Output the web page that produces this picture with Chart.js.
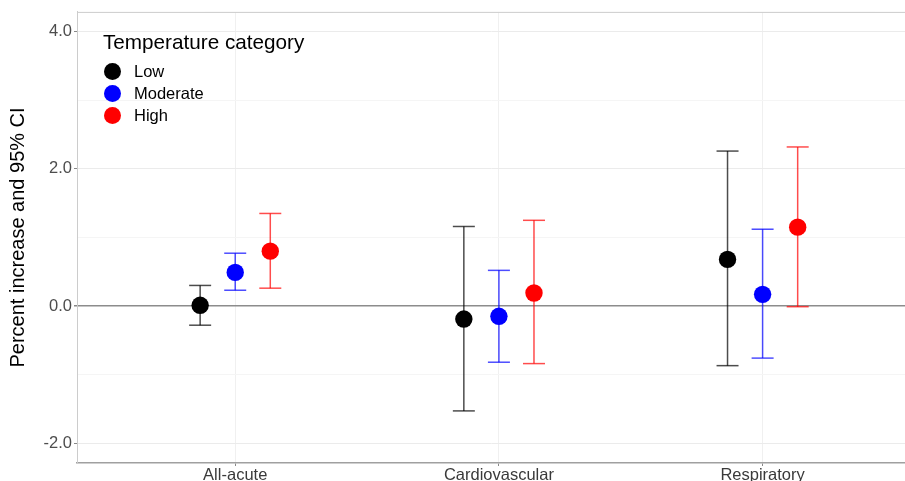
<!DOCTYPE html>
<html>
<head>
<meta charset="utf-8">
<script src="https://cdn.jsdelivr.net/npm/chart.js@4.4.1/dist/chart.umd.min.js"></script>
<style>
  body { margin: 0; background: #fff; font-family: "Liberation Sans", Arial, sans-serif; }
  #wrap { position: relative; width: 905px; height: 481px; }
  #legend { position: absolute; left: 103px; top: 29px; color: #000; }
  #legend .title { font-size: 20.7px; line-height: 26px; margin-bottom: 5px; }
  #legend .item { display: flex; align-items: center; height: 22px; font-size: 16.5px; }
  #legend .dot { width: 17px; height: 17px; border-radius: 50%; margin: 0 13px 0 1px; }
</style>
</head>
<body>
<div id="wrap">
  <canvas id="chartCI" width="905" height="481"></canvas>
  <div id="legend"></div>
</div>
<script>
// Datos
const categories = ['All-acute', 'Cardiovascular', 'Respiratory'];
const groups = ['Low', 'Moderate', 'High'];
const lowEst = [0.01, -0.19, 0.68];
const lowLo = [-0.28, -1.53, -0.87];
const lowHi = [0.30, 1.16, 2.26];
const modEst = [0.49, -0.15, 0.17];
const modLo = [0.23, -0.82, -0.76];
const modHi = [0.77, 0.52, 1.12];
const highEst = [0.80, 0.19, 1.15];
const highLo = [0.26, -0.84, -0.01];
const highHi = [1.35, 1.25, 2.32];
const yTickValues = [-2, -1, 0, 1, 2, 3, 4];

const groupColors = ['#000000', '#0000ff', '#ff0000'];
const barColors = ['rgba(0,0,0,0.7)', 'rgba(0,0,255,0.7)', 'rgba(255,0,0,0.7)'];
const dodge = [-0.133, 0, 0.133];
const series = [
  { est: lowEst, lo: lowLo, hi: lowHi },
  { est: modEst, lo: modLo, hi: modHi },
  { est: highEst, lo: highLo, hi: highHi }
];

// Construir datasets
const datasets = [];
series.forEach((s, g) => {
  const pts = s.est.map((v, i) => ({ x: i + 1 + dodge[g], y: v }));
  datasets.push({
    label: groups[g],
    data: pts,
    showLine: false,
    pointRadius: 8.7,
    pointBorderWidth: 0,
    backgroundColor: groupColors[g],
    borderColor: groupColors[g],
    order: 1
  });
  const bars = [];
  s.est.forEach((v, i) => {
    const x = i + 1 + dodge[g];
    bars.push({ x: x, y: s.lo[i] }, { x: x, y: s.hi[i] }, { x: x, y: null });
  });
  datasets.push({
    label: groups[g] + ' CI',
    data: bars,
    showLine: true,
    spanGaps: false,
    borderColor: barColors[g],
    borderWidth: 1.5,
    pointStyle: 'line',
    pointRadius: 11,
    pointBorderWidth: 1.5,
    pointBorderColor: barColors[g],
    order: 2
  });
});

// Borde superior del panel
const panelBorder = {
  id: 'panelBorder',
  afterDraw(chart) {
    const { ctx, chartArea } = chart;
    ctx.save();
    ctx.strokeStyle = '#cccccc';
    ctx.lineWidth = 1;
    ctx.beginPath();
    ctx.moveTo(chartArea.left, chartArea.top + 0.5);
    ctx.lineTo(chartArea.right, chartArea.top + 0.5);
    ctx.stroke();
    ctx.restore();
  }
};

const chart = new Chart(document.getElementById('chartCI').getContext('2d'), {
  type: 'scatter',
  data: { datasets: datasets },
  plugins: [panelBorder],
  options: {
    responsive: false,
    animation: false,
    events: [],
    layout: { autoPadding: false, padding: { top: 11, right: 0, left: 0, bottom: 0 } },
    plugins: { legend: { display: false }, tooltip: { enabled: false } },
    scales: {
      x: {
        type: 'linear',
        min: 0.4,
        max: 3.54,
        afterBuildTicks: (scale) => { scale.ticks = categories.map((c, i) => ({ value: i + 1 })); },
        afterFit: (scale) => { scale.height = 18; scale.paddingRight = 0; scale.paddingLeft = 0; },
        ticks: {
          callback: (v) => categories[Math.round(v) - 1] || '',
          font: { family: 'Liberation Sans', size: 16.5 },
          color: '#3a3a3a',
          padding: 0,
          maxRotation: 0
        },
        grid: { color: '#f0f0f0', lineWidth: 1, tickLength: 3, tickColor: '#888888' },
        border: { color: '#a0a0a0', width: 1.5 }
      },
      y: {
        type: 'linear',
        min: -2.29,
        max: 4.29,
        afterBuildTicks: (scale) => { scale.ticks = yTickValues.map(v => ({ value: v })); },
        afterFit: (scale) => { scale.width = 77; },
        ticks: {
          callback: (v) => (v % 2 === 0 ? v.toFixed(1) : ''),
          font: { family: 'Liberation Sans', size: 16.5 },
          color: '#4d4d4d',
          padding: 2
        },
        grid: {
          color: (ctx) => (ctx.tick && ctx.tick.value === 0 ? '#8c8c8c' : (ctx.tick && ctx.tick.value % 2 === 0 ? '#ebebeb' : '#f5f5f5')),
          lineWidth: (ctx) => (ctx.tick && ctx.tick.value === 0 ? 1.5 : 1),
          tickLength: 3,
          tickColor: (ctx) => (ctx.tick && ctx.tick.value % 2 === 0 ? '#888888' : 'rgba(0,0,0,0)')
        },
        border: { color: '#cccccc', width: 1 },
        title: {
          display: true,
          text: 'Percent increase and 95% CI',
          font: { family: 'Liberation Sans', size: 20 },
          color: '#000000',
          padding: { top: 6, bottom: 0 }
        }
      }
    }
  }
});

// Leyenda en HTML
const legendEl = document.getElementById('legend');
legendEl.innerHTML = '<div class="title">Temperature category</div>' +
  groups.map((g, i) => '<div class="item"><span class="dot" style="background:' + groupColors[i] + '"></span>' + g + '</div>').join('');
</script>
</body>
</html>
